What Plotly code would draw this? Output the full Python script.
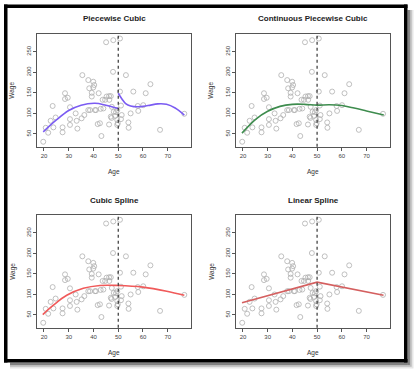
import plotly.graph_objects as go

# ---------------- data ----------------
knot = 50
age = [19.7, 20.7, 21.7, 22.7, 23.5, 23.8, 24.7, 27.5, 27.5, 28.5, 28.5, 29.6, 30.5, 30.5, 30.5,
       32.8, 33.2, 33.5, 35.5, 35.2, 36.3, 37.9, 37.9, 38.3, 39.3, 39.9, 39.9, 40.3, 39.3, 40.6,
       38.6, 41.0, 41.7, 42.1, 42.6, 42.9, 43.2, 43.7, 44.0, 44.7, 45.1, 45.3, 46.3, 46.4, 47.0,
       46.3, 47.0, 47.3, 47.4, 47.9, 48.0, 48.2, 48.7, 49.1, 49.6, 49.6, 49.6, 49.8, 50.7, 50.7,
       51.1, 51.1, 51.4, 53.1, 54.1, 54.2, 55.0, 56.1, 57.9, 58.1, 60.1, 61.1, 63.0, 66.9, 76.7]
wage = [31, 65, 53, 82, 118, 66, 90, 66, 54, 149, 135, 138, 115, 86, 72,
        100, 82, 63, 193, 88, 96, 181, 108, 161, 150, 177, 163, 169, 141, 108,
        108, 108, 74, 149, 76, 111, 45, 133, 112, 133, 273, 141, 142, 133, 142,
        73, 92, 89, 116, 201, 278, 104, 94, 103, 84, 72, 108, 76, 282, 153,
        119, 86, 96, 193, 78, 65, 100, 153, 118, 106, 120, 149, 171, 60, 99]

pw_left_age = [19.7, 25, 30, 35, 40.6, 45, 50]
pw_left_fit = [55, 84, 107, 120, 124.5, 120, 112]
pw_right_age = [50, 51.5, 53, 55, 58, 62, 66, 69.5, 73, 76.7]
pw_right_fit = [149, 135, 124, 118, 116, 119, 123, 122, 113, 96]

cont_age = [19.6, 25, 30, 35, 40, 45, 50, 55, 60, 65, 70, 77]
cont_fit = [52, 85, 105, 117, 122, 122, 120, 121, 119, 113, 106, 96]

cs_age = [19.5, 23.8, 29.2, 35.9, 42.6, 50, 60, 69.6, 76.7]
cs_fit = [51, 74, 98, 115, 122, 122, 118, 108, 98]

lin_age = [19.6, 50, 76.9]
lin_fit = [80, 130, 98]

titles = ["Piecewise Cubic", "Continuous Piecewise Cubic", "Cubic Spline", "Linear Spline"]
x_ticks = [20, 30, 40, 50, 60, 70]
y_ticks = [50, 100, 150, 200, 250]

# ---------------- layout helpers ----------------
W, H = 416, 374
def PX(p):
    return p / W
def PY(p):
    return 1 - p / H

panels = [  # (left, right, top, bottom) in pixels
    (37.3, 191.0, 34.0, 146.7),
    (236.3, 389.7, 34.0, 146.7),
    (37.3, 191.0, 215.3, 327.7),
    (236.3, 389.7, 215.3, 327.7),
]

fig = go.Figure()
layout = dict(width=W, height=H, margin=dict(l=0, r=0, t=0, b=0, pad=0),
              paper_bgcolor="white", plot_bgcolor="white", showlegend=False,
              font=dict(family="Liberation Sans, Arial, sans-serif", color="#333"))
annotations = []
shapes = []

point_style = dict(mode="markers", hoverinfo="skip",
                   marker=dict(symbol="circle-open", size=5, color="#b0b0b0",
                               line=dict(width=0.8, color="#b0b0b0")))

curves = [
    [(pw_left_age, pw_left_fit, "#7b5cf2"), (pw_right_age, pw_right_fit, "#7b5cf2")],
    [(cont_age, cont_fit, "#3e8c4e")],
    [(cs_age, cs_fit, "#f05a5a")],
    [(lin_age, lin_fit, "#d45f5f")],
]

def note(text, x, y, size, color, angle=0):
    return dict(text=text, x=x, y=y, xref="paper", yref="paper", showarrow=False,
                xanchor="center", yanchor="middle", textangle=angle,
                font=dict(size=size, color=color))

def box(x0, x1, y0, y1, color, layer="below"):
    return dict(type="rect", xref="paper", yref="paper", layer=layer,
                x0=PX(x0), x1=PX(x1), y0=PY(y1), y1=PY(y0),
                line=dict(width=0), fillcolor=color)

# drop shadow (right and bottom)
for k, a in enumerate([0.10, 0.18, 0.30]):
    off = 6 - k * 1.8
    shapes.append(box(407.5, 407.5 + off, 10, 362.5 + off, "rgba(0,0,0,%.2f)" % a))
    shapes.append(box(10, 407.5, 362.5, 362.5 + off, "rgba(0,0,0,%.2f)" % a))
# black frame bars
shapes.append(box(4.0, 7.5, 4.5, 362.5, "black", "above"))      # left
shapes.append(box(4.0, 407.5, 4.5, 8.0, "black", "above"))      # top
shapes.append(box(404.0, 407.5, 4.5, 362.5, "black", "above"))  # right
shapes.append(box(4.0, 407.5, 359.0, 362.5, "black", "above"))  # bottom

for i, (l, r, t, b) in enumerate(panels):
    n = "" if i == 0 else str(i + 1)
    xa, ya = "x" + n, "y" + n
    fig.add_trace(go.Scatter(x=age, y=wage, xaxis=xa, yaxis=ya, **point_style))
    for cx, cy, col in curves[i]:
        shape = "linear" if len(cx) == 3 else "spline"
        fig.add_trace(go.Scatter(x=cx, y=cy, xaxis=xa, yaxis=ya, mode="lines", hoverinfo="skip",
                                 line=dict(color=col, width=1.6, shape=shape, smoothing=1.0)))
    axis_common = dict(showline=True, mirror=True, linecolor="#555", linewidth=1,
                       ticks="outside", ticklen=3, tickwidth=0.8, tickcolor="#555",
                       showgrid=False, zeroline=False, fixedrange=True,
                       tickfont=dict(size=6, color="#444"))
    layout["xaxis" + n] = dict(domain=[PX(l), PX(r)], anchor=ya, range=[17.3, 79.4],
                               tickvals=x_ticks, **axis_common)
    layout["yaxis" + n] = dict(domain=[PY(b), PY(t)], anchor=xa, range=[19, 293],
                               tickvals=y_ticks, tickangle=-90, **axis_common)
    shapes.append(dict(type="line", xref=xa, yref=ya + " domain", x0=knot, x1=knot, y0=0, y1=1,
                       line=dict(color="#222", width=1.1, dash="dot")))
    cxm = (l + r) / 2
    annotations.append(note("<b>" + titles[i] + "</b>", PX(cxm), PY(t - 15), 8, "#222"))
    annotations.append(note("Age", PX(cxm), PY(b + 25.5), 6.5, "#333"))
    annotations.append(note("Wage", PX(l - 25), PY((t + b) / 2), 6.5, "#333", -90))

layout["annotations"] = annotations
layout["shapes"] = shapes
fig.update_layout(**layout)
fig.write_html("out.html", config={"displayModeBar": False},
               post_script="document.body.style.margin='0';document.body.style.padding='0';")
